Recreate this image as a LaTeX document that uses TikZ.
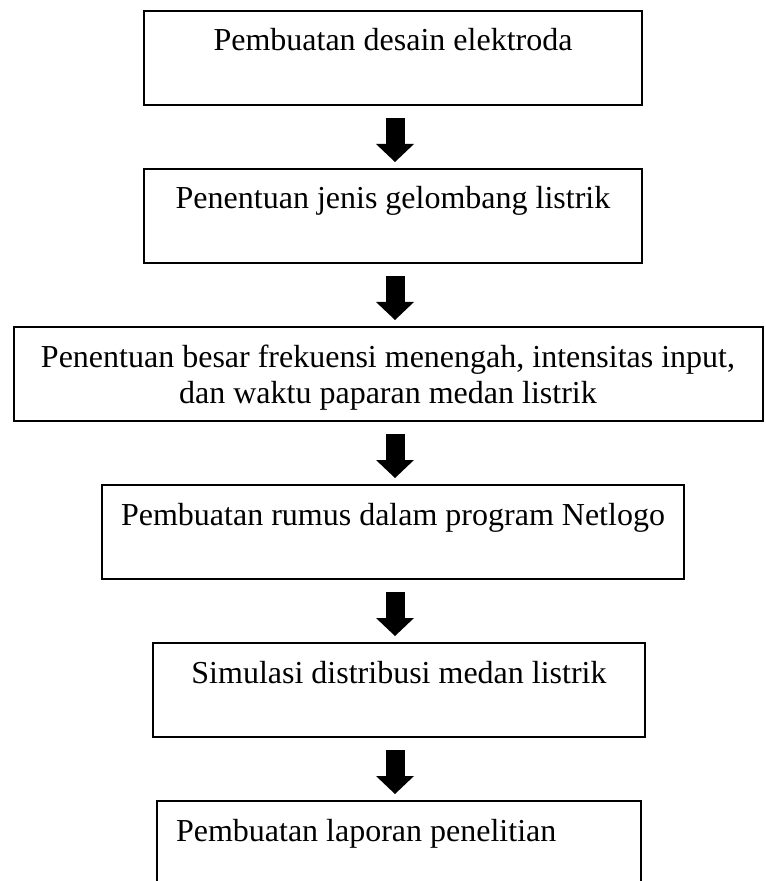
\documentclass[tikz,border=0pt]{standalone}
\usepackage{fontspec}
\setmainfont{Liberation Serif}
\usepackage{tikz}
\usetikzlibrary{arrows.meta, positioning}
\tikzset{
  stepbox/.style={rectangle, draw=black, line width=1pt, minimum width=#1,
              text height=20pt, text depth=27pt, inner ysep=0pt, inner xsep=0pt,
              align=center, font=\fontsize{16}{18}\selectfont},
  stepbox/.default=249pt,
  blockarrow/.style={line width=9.5pt, -{Triangle[width=19pt, length=9pt, line width=0pt]},
              shorten <=6pt, shorten >=3pt},
}

\begin{document}
\begin{tikzpicture}[x=0.5pt, y=-0.5pt, node distance=31pt]
  \useasboundingbox (0,0) rectangle (765,881);
  \coordinate (ax) at (395,0);

  \node[stepbox, anchor=north] (desain) at (393,10) {Pembuatan desain elektroda};
  \node[stepbox, below=of desain] (gelombang) {Penentuan jenis gelombang listrik};
  % two lines: baseline sits on the last one
  \node[stepbox=374.5pt, text height=38pt, text depth=9pt, below=of gelombang, xshift=-2.5pt] (frekuensi)
        {Penentuan besar frekuensi menengah, intensitas input,\\dan waktu paparan medan listrik};
  \node[stepbox=291pt, below=of frekuensi, xshift=2.5pt] (rumus) {Pembuatan rumus dalam program Netlogo};
  \node[stepbox=246pt, below=of rumus, xshift=3pt] (simulasi) {Simulasi distribusi medan listrik};
  \node[stepbox=242pt, text width=223pt, inner xsep=9.5pt, align=flush left, below=of simulasi] (laporan)
        {Pembuatan laporan penelitian};

  \draw[blockarrow] (desain.south -| ax) -- (gelombang.north -| ax);
  \draw[blockarrow] (gelombang.south -| ax) -- (frekuensi.north -| ax);
  \draw[blockarrow] (frekuensi.south -| ax) -- (rumus.north -| ax);
  \draw[blockarrow] (rumus.south -| ax) -- (simulasi.north -| ax);
  \draw[blockarrow] (simulasi.south -| ax) -- (laporan.north -| ax);
\end{tikzpicture}
\end{document}
